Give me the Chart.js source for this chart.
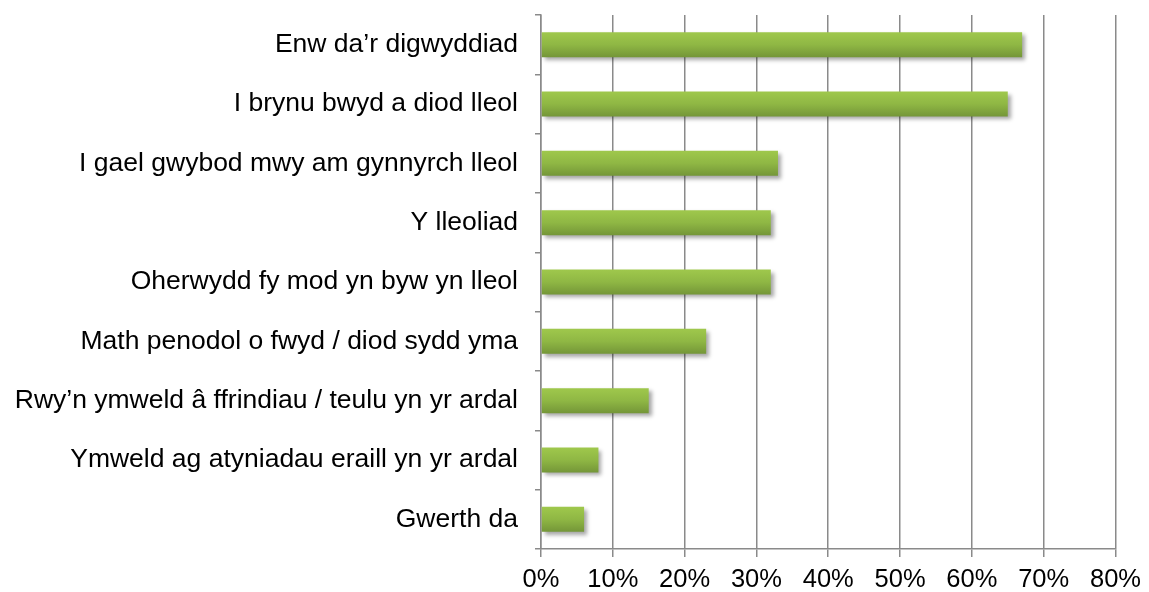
<!DOCTYPE html>
<html>
<head>
<meta charset="utf-8">
<script src="https://cdn.jsdelivr.net/npm/chart.js@4/dist/chart.umd.min.js"></script>
<style>
  html, body { margin: 0; padding: 0; background: #fff; }
  #wrap { width: 1149px; height: 592px; position: relative; }
</style>
</head>
<body>
<div id="wrap"><canvas id="chart"></canvas></div>
<script>
// categories (top to bottom)
const categories = [
  'Enw da’r digwyddiad',
  'I brynu bwyd a diod lleol',
  'I gael gwybod mwy am gynnyrch lleol',
  'Y lleoliad',
  'Oherwydd fy mod yn byw yn lleol',
  'Math penodol o fwyd / diod sydd yma',
  'Rwy’n ymweld â ffrindiau / teulu yn yr ardal',
  'Ymweld ag atyniadau eraill yn yr ardal',
  'Gwerth da'
];
// percentages
const values = [67, 65, 33, 32, 32, 23, 15, 8, 6];

// gradient + shadow for each bar
const barStyle = {
  id: 'barStyle',
  beforeDatasetsDraw(chart) {
    const ctx = chart.ctx;
    chart.getDatasetMeta(0).data.forEach(bar => {
      const h = bar.height;
      const g = ctx.createLinearGradient(0, bar.y - h / 2, 0, bar.y + h / 2);
      g.addColorStop(0, '#9fc84c');
      g.addColorStop(0.5, '#8fb744');
      g.addColorStop(1, '#749638');
      bar.options.backgroundColor = g;
    });
    ctx.save();
    ctx.shadowColor = 'rgba(0,0,0,0.35)';
    ctx.shadowBlur = 4;
    ctx.shadowOffsetX = 3;
    ctx.shadowOffsetY = 3;
  },
  afterDatasetsDraw(chart) {
    chart.ctx.restore();
  }
};

new Chart(document.getElementById('chart'), {
  type: 'bar',
  data: {
    labels: categories,
    datasets: [{
      data: values,
      // scriptable so every bar gets its own options object
      backgroundColor: () => '#8fb744',
      barPercentage: 0.84,
      categoryPercentage: 0.5
    }]
  },
  plugins: [barStyle],
  options: {
    indexAxis: 'y',
    responsive: true,
    maintainAspectRatio: false,
    animation: false,
    layout: { padding: { top: 15, right: 33, left: 0, bottom: 0 } },
    plugins: {
      legend: { display: false },
      tooltip: { enabled: false }
    },
    scales: {
      x: {
        afterFit(scale) { scale.height = 43; },
        min: 0,
        max: 80,
        ticks: {
          stepSize: 10,
          callback: v => v + '%',
          color: '#000',
          font: { family: 'Liberation Sans', size: 25.5 },
          padding: 8,
          maxRotation: 0
        },
        grid: {
          color: '#8a8a8a',
          lineWidth: 1.5,
          tickLength: 8
        },
        border: { color: '#8a8a8a', width: 1.5 }
      },
      y: {
        afterFit(scale) {
          scale.width = 541;
          scale.paddingTop = 0;
          scale.paddingBottom = 0;
        },
        ticks: {
          color: '#000',
          font: { family: 'Liberation Sans', size: 26.5 },
          padding: 17
        },
        grid: {
          drawOnChartArea: false,
          color: '#8a8a8a',
          lineWidth: 1.5,
          tickLength: 6,
          offset: true
        },
        border: { color: '#8a8a8a', width: 1.5 }
      }
    }
  }
});
</script>
</body>
</html>
